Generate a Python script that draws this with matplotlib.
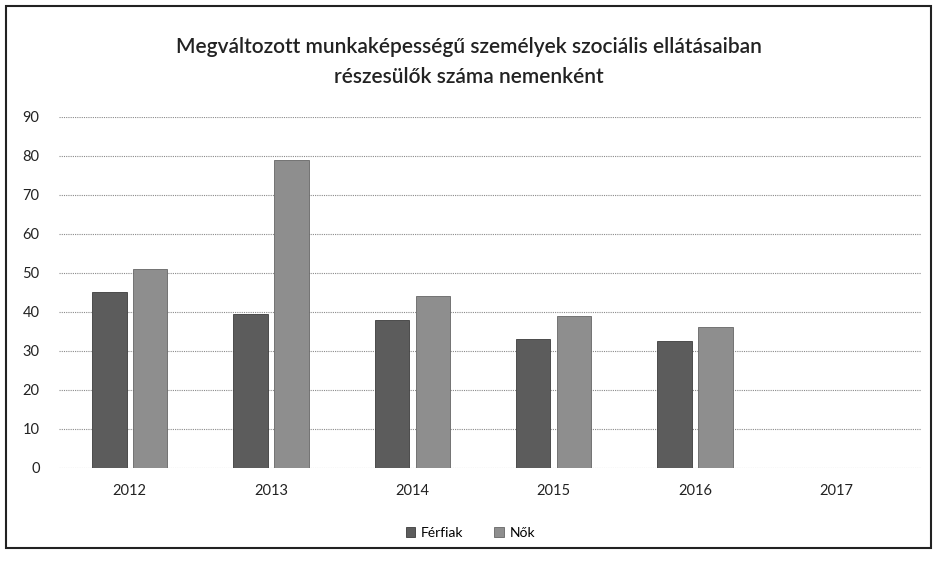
import numpy as np
import matplotlib
matplotlib.use("Agg")
import matplotlib.pyplot as plt
from matplotlib.patches import Rectangle

plt.rcParams['font.family'] = ['Lato', 'DejaVu Sans']

years = ['2012', '2013', '2014', '2015', '2016', '2017']
ferfiak = [45, 39.5, 38, 33, 32.5, np.nan]
nok = [51, 79, 44, 39, 36, np.nan]

fig = plt.figure(figsize=(9.37, 5.65), dpi=100)
ax = fig.add_axes([0.063, 0.172, 0.92, 0.621])

x = np.arange(len(years))
w = 0.245
ax.bar(x - 0.145, ferfiak, w, color='#5c5c5c', edgecolor='#3c3c3c', linewidth=0.6, label='Férfiak', zorder=3)
ax.bar(x + 0.145, nok, w, color='#8e8e8e', edgecolor='#666666', linewidth=0.6, label='Nők', zorder=3)

ax.set_xlim(-0.5, len(years) - 0.4)
ax.set_ylim(0, 90)
ax.set_yticks(range(0, 91, 10))
ax.set_xticks(x)
ax.set_xticklabels(years)
ax.tick_params(axis='both', length=0, labelsize=10.5, colors='#222222')
ax.tick_params(axis='x', pad=12)
ax.tick_params(axis='y', pad=14)
ax.grid(axis='y', color='#8a8a8a', linestyle=(0, (1, 1)), linewidth=0.8, zorder=0)
for s in ax.spines.values():
    s.set_visible(False)

fig.suptitle('Megváltozott munkaképességű személyek szociális ellátásaiban\nrészesülők száma nemenként',
             y=0.89, va='center', fontsize=15, fontweight='semibold', color='#222222', linespacing=1.6)

fig.legend(loc='center', bbox_to_anchor=(0.502, 0.057), ncol=2, frameon=False,
           fontsize=10, handlelength=0.7, handleheight=0.7, columnspacing=2.2, handletextpad=0.4)

fig.patches.append(Rectangle((0.006, 0.03), 0.988, 0.96, transform=fig.transFigure,
                             fill=False, edgecolor='#222222', linewidth=1.5))

fig.savefig('out.png', dpi=100)
